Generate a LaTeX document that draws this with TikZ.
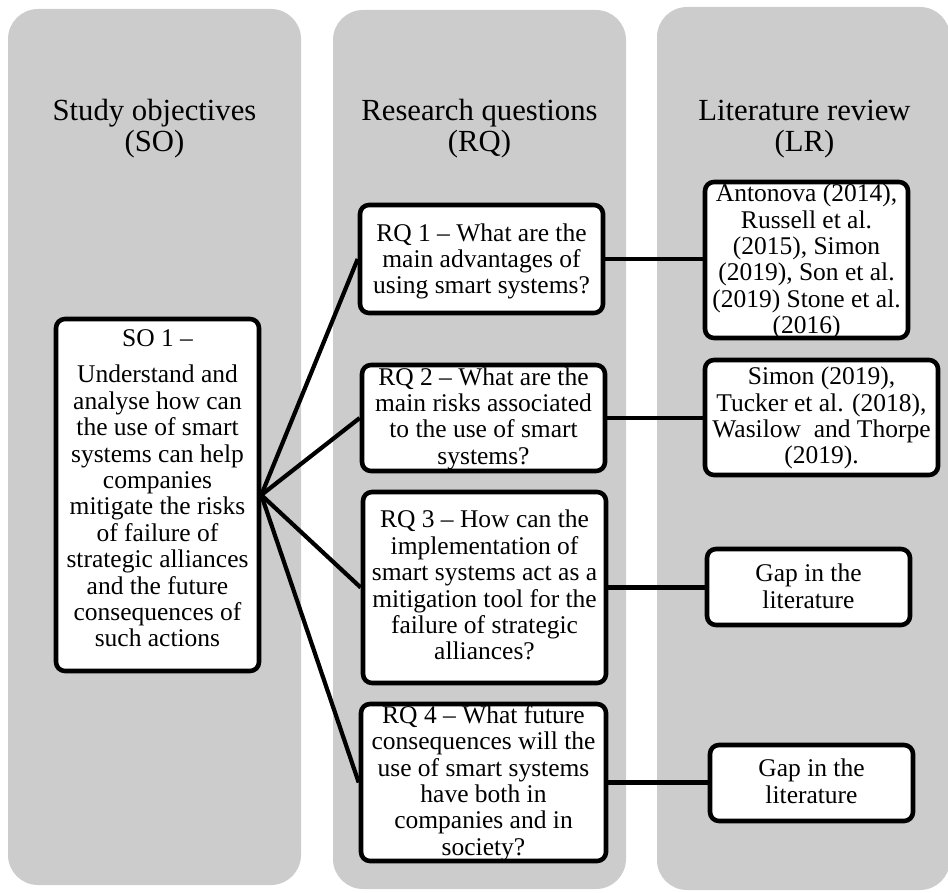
\documentclass[tikz,border=0pt]{standalone}
\usepackage{fontspec}
\setmainfont{Liberation Serif}
\definecolor{colgray}{RGB}{204,204,204}
\begin{document}
\begin{tikzpicture}[x=1pt,y=-1pt,
  colbg/.style={fill=colgray, draw=none, rounded corners=30pt},
  box/.style={draw=black, line width=4.6pt, fill=white, rounded corners=9pt, inner sep=0pt, rectangle},
  conn/.style={draw=black, line width=4.2pt},
  boxtext/.style={align=center, font=\fontsize{25.5}{26.4}\selectfont, inner sep=0pt, text=black},
  titletext/.style={align=center, font=\fontsize{30.7}{31}\selectfont, inner sep=0pt, text=black}]
\useasboundingbox (0,0) rectangle (948,893);

% columns
\fill[colbg] (8,9) rectangle (301,885);
\fill[colbg] (333,10) rectangle (626,889);
\fill[colbg] (657,7) rectangle (950,890);

% titles
\node[titletext] (t1) at (154.5,128.7) {Study objectives\\(SO)};
\node[titletext] (t2) at (479.5,128.7) {Research questions\\(RQ)};
\node[titletext] (t3) at (804.5,128.7) {Literature review\\(LR)};

% connectors (drawn first, boxes cover their ends)
\path
  (157.5,495)   coordinate (pso)
  (481.5,259)   coordinate (prq1)
  (483.5,418)   coordinate (prq2)
  (484.5,587.5) coordinate (prq3)
  (483.5,782.5) coordinate (prq4)
  (806.5,260)   coordinate (plr1)
  (821.5,417.5) coordinate (plr2)
  (808.5,587)   coordinate (plr3)
  (811.5,783)   coordinate (plr4);

\node[box, minimum width=203pt, minimum height=352pt] (so) at (pso) {};
\node[box, minimum width=243pt, minimum height=108pt] (rq1) at (prq1) {};
\node[box, minimum width=243pt, minimum height=106pt] (rq2) at (prq2) {};
\node[box, minimum width=243pt, minimum height=191pt] (rq3) at (prq3) {};
\node[box, minimum width=245pt, minimum height=157pt] (rq4) at (prq4) {};
\node[box, minimum width=203pt, minimum height=156pt] (lr1) at (plr1) {};
\node[box, minimum width=233pt, minimum height=115pt] (lr2) at (plr2) {};
\node[box, minimum width=203pt, minimum height=76pt] (lr3) at (plr3) {};
\node[box, minimum width=203pt, minimum height=76pt] (lr4) at (plr4) {};

\draw[conn] (so.east) -- (rq1.west);
\draw[conn] (so.east) -- (rq2.west);
\draw[conn] (so.east) -- (rq3.west);
\draw[conn] (so.east) -- (rq4.west);
\draw[conn] (rq1.east) -- (rq1.east -| lr1.west);
\draw[conn] (rq2.east) -- (rq2.east -| lr2.west);
\draw[conn] (rq3.east) -- (rq3.east -| lr3.west);
\draw[conn] (rq4.east) -- (rq4.east -| lr4.west);

% texts
\node[boxtext] (sot) at (157.5,488.6) {SO 1 –\\[9.5pt]Understand and\\analyse how can\\the use of smart\\systems can help\\companies\\mitigate the risks\\of failure of\\strategic alliances\\and the future\\consequences of\\such actions};
\node[boxtext] (rq1t) at (481.5,261.5) {RQ 1 – What are the\\main advantages of\\using smart systems?};
\node[boxtext] (rq2t) at (483.5,418.7) {RQ 2 – What are the\\main risks associated\\to the use of smart\\systems?};
\node[boxtext] (rq3t) at (484.5,585.3) {RQ 3 – How can the\\implementation of\\smart systems act as a\\mitigation tool for the\\failure of strategic\\alliances?};
\node[boxtext] (rq4t) at (483.5,783) {RQ 4 – What future\\consequences will the\\use of smart systems\\have both in\\companies and in\\society?};
\node[boxtext] (lr1t) at (806.5,261.6) {Antonova (2014),\\Russell et al.\\(2015), Simon\\(2019), Son et al.\\(2019) Stone et al.\\(2016)};
\node[boxtext] (lr2t) at (821.5,418.2) {Simon (2019),\\Tucker et al. (2018),\\Wasilow~ and Thorpe\\(2019).};
\node[boxtext] (lr3t) at (808.5,586.3) {Gap in the\\literature};
\node[boxtext] (lr4t) at (811.5,781.3) {Gap in the\\literature};
\end{tikzpicture}
\end{document}
